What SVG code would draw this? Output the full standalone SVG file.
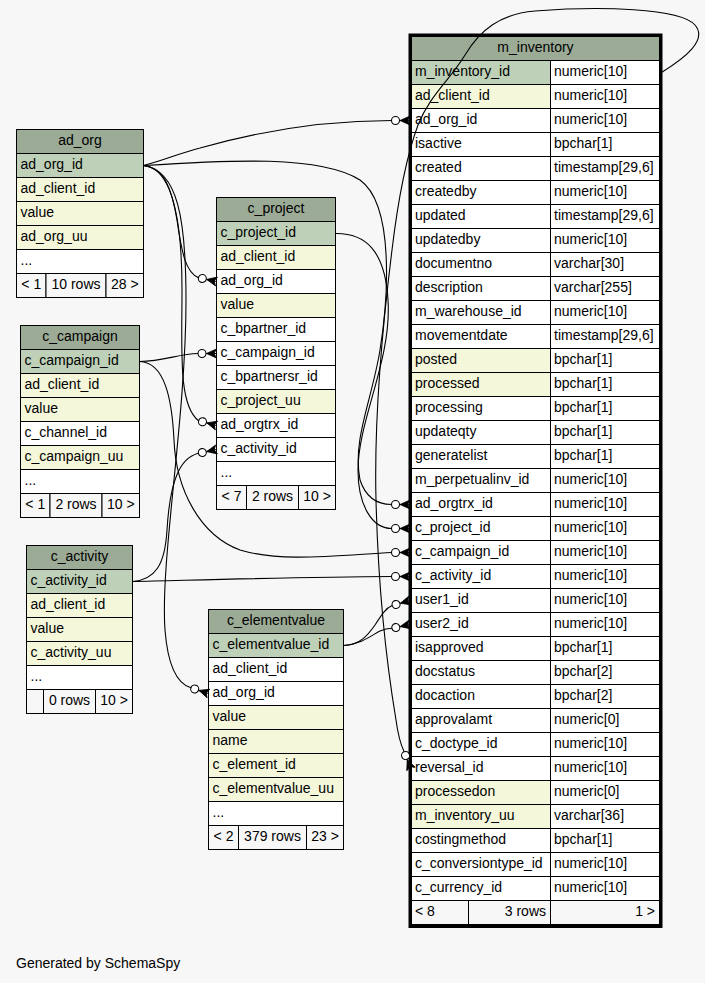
<svg xmlns="http://www.w3.org/2000/svg" xmlns:xlink="http://www.w3.org/1999/xlink" width="705" height="983" viewBox="0 0 705 983">
<style>
.hd{fill:#9bab96;stroke:#000;stroke-width:1}
.pk{fill:#bed1b8;stroke:#000;stroke-width:1}
.ix{fill:#f4f7da;stroke:#000;stroke-width:1}
.wh{fill:#fff;stroke:#000;stroke-width:1}
.ft{fill:#f7f7f7;stroke:#000;stroke-width:1}
text{font-family:"Liberation Sans",Arial,Helvetica,sans-serif;font-size:14px;fill:#000}
.c{text-anchor:middle}
.r{text-anchor:end}
.e{fill:none;stroke:#000;stroke-width:1.1}
</style>
<defs>
<g id="cf">
<path d="M-10,0 L0,-4.5 L-2.5,0 L0,4.5 Z" fill="#000" stroke="#000" stroke-width="0.8"/>
<path d="M-10,0 H0" stroke="#000" stroke-width="1"/>
<circle cx="-14.5" cy="0" r="4" fill="#fff" stroke="#000" stroke-width="1.1"/>
</g>
</defs>
<rect x="0" y="0" width="705" height="983" fill="#f7f7f7"/>

<g id="ad_org">
<rect class="hd" x="16.5" y="129.5" width="127" height="24"/>
<text class="c" x="80" y="145">ad_org</text>
<rect class="pk" x="16.5" y="153.5" width="127" height="24"/>
<text x="20.5" y="169">ad_org_id</text>
<rect class="ix" x="16.5" y="177.5" width="127" height="24"/>
<text x="20.5" y="193">ad_client_id</text>
<rect class="ix" x="16.5" y="201.5" width="127" height="24"/>
<text x="20.5" y="217">value</text>
<rect class="ix" x="16.5" y="225.5" width="127" height="24"/>
<text x="20.5" y="241">ad_org_uu</text>
<rect class="wh" x="16.5" y="249.5" width="127" height="24"/>
<text x="20.5" y="265">...</text>
<rect class="ft" x="16.5" y="273.5" width="29.5" height="24"/>
<rect class="ft" x="46" y="273.5" width="60" height="24"/>
<rect class="ft" x="106" y="273.5" width="37.5" height="24"/>
<text class="c" x="31.25" y="289">&lt; 1</text>
<text class="c" x="76" y="289">10 rows</text>
<text class="c" x="124.75" y="289">28 &gt;</text>
</g>

<g id="c_campaign">
<rect class="hd" x="20.5" y="325.5" width="119" height="24"/>
<text class="c" x="80" y="341">c_campaign</text>
<rect class="pk" x="20.5" y="349.5" width="119" height="24"/>
<text x="24.5" y="365">c_campaign_id</text>
<rect class="ix" x="20.5" y="373.5" width="119" height="24"/>
<text x="24.5" y="389">ad_client_id</text>
<rect class="ix" x="20.5" y="397.5" width="119" height="24"/>
<text x="24.5" y="413">value</text>
<rect class="wh" x="20.5" y="421.5" width="119" height="24"/>
<text x="24.5" y="437">c_channel_id</text>
<rect class="ix" x="20.5" y="445.5" width="119" height="24"/>
<text x="24.5" y="461">c_campaign_uu</text>
<rect class="wh" x="20.5" y="469.5" width="119" height="24"/>
<text x="24.5" y="485">...</text>
<rect class="ft" x="20.5" y="493.5" width="29.5" height="24"/>
<rect class="ft" x="50" y="493.5" width="52" height="24"/>
<rect class="ft" x="102" y="493.5" width="37.5" height="24"/>
<text class="c" x="35.25" y="509">&lt; 1</text>
<text class="c" x="76" y="509">2 rows</text>
<text class="c" x="120.75" y="509">10 &gt;</text>
</g>

<g id="c_activity">
<rect class="hd" x="26.5" y="545.5" width="106" height="24"/>
<text class="c" x="79.5" y="561">c_activity</text>
<rect class="pk" x="26.5" y="569.5" width="106" height="24"/>
<text x="30.5" y="585">c_activity_id</text>
<rect class="ix" x="26.5" y="593.5" width="106" height="24"/>
<text x="30.5" y="609">ad_client_id</text>
<rect class="ix" x="26.5" y="617.5" width="106" height="24"/>
<text x="30.5" y="633">value</text>
<rect class="ix" x="26.5" y="641.5" width="106" height="24"/>
<text x="30.5" y="657">c_activity_uu</text>
<rect class="wh" x="26.5" y="665.5" width="106" height="24"/>
<text x="30.5" y="681">...</text>
<rect class="ft" x="26.5" y="689.5" width="17" height="24"/>
<rect class="ft" x="43.5" y="689.5" width="52" height="24"/>
<rect class="ft" x="95.5" y="689.5" width="37" height="24"/>
<text class="c" x="69.5" y="705">0 rows</text>
<text class="c" x="114" y="705">10 &gt;</text>
</g>

<g id="c_project">
<rect class="hd" x="216.5" y="197.5" width="119" height="24"/>
<text class="c" x="276" y="213">c_project</text>
<rect class="pk" x="216.5" y="221.5" width="119" height="24"/>
<text x="220.5" y="237">c_project_id</text>
<rect class="ix" x="216.5" y="245.5" width="119" height="24"/>
<text x="220.5" y="261">ad_client_id</text>
<rect class="wh" x="216.5" y="269.5" width="119" height="24"/>
<text x="220.5" y="285">ad_org_id</text>
<rect class="ix" x="216.5" y="293.5" width="119" height="24"/>
<text x="220.5" y="309">value</text>
<rect class="wh" x="216.5" y="317.5" width="119" height="24"/>
<text x="220.5" y="333">c_bpartner_id</text>
<rect class="wh" x="216.5" y="341.5" width="119" height="24"/>
<text x="220.5" y="357">c_campaign_id</text>
<rect class="wh" x="216.5" y="365.5" width="119" height="24"/>
<text x="220.5" y="381">c_bpartnersr_id</text>
<rect class="ix" x="216.5" y="389.5" width="119" height="24"/>
<text x="220.5" y="405">c_project_uu</text>
<rect class="wh" x="216.5" y="413.5" width="119" height="24"/>
<text x="220.5" y="429">ad_orgtrx_id</text>
<rect class="wh" x="216.5" y="437.5" width="119" height="24"/>
<text x="220.5" y="453">c_activity_id</text>
<rect class="wh" x="216.5" y="461.5" width="119" height="24"/>
<text x="220.5" y="477">...</text>
<rect class="ft" x="216.5" y="485.5" width="30" height="24"/>
<rect class="ft" x="246.5" y="485.5" width="52" height="24"/>
<rect class="ft" x="298.5" y="485.5" width="37" height="24"/>
<text class="c" x="231.5" y="501">&lt; 7</text>
<text class="c" x="272.5" y="501">2 rows</text>
<text class="c" x="317" y="501">10 &gt;</text>
</g>

<g id="c_elementvalue">
<rect class="hd" x="208.5" y="609.5" width="135" height="24"/>
<text class="c" x="276" y="625">c_elementvalue</text>
<rect class="pk" x="208.5" y="633.5" width="135" height="24"/>
<text x="212.5" y="649">c_elementvalue_id</text>
<rect class="wh" x="208.5" y="657.5" width="135" height="24"/>
<text x="212.5" y="673">ad_client_id</text>
<rect class="wh" x="208.5" y="681.5" width="135" height="24"/>
<text x="212.5" y="697">ad_org_id</text>
<rect class="ix" x="208.5" y="705.5" width="135" height="24"/>
<text x="212.5" y="721">value</text>
<rect class="ix" x="208.5" y="729.5" width="135" height="24"/>
<text x="212.5" y="745">name</text>
<rect class="ix" x="208.5" y="753.5" width="135" height="24"/>
<text x="212.5" y="769">c_element_id</text>
<rect class="ix" x="208.5" y="777.5" width="135" height="24"/>
<text x="212.5" y="793">c_elementvalue_uu</text>
<rect class="wh" x="208.5" y="801.5" width="135" height="24"/>
<text x="212.5" y="817">...</text>
<rect class="ft" x="208.5" y="825.5" width="30" height="24"/>
<rect class="ft" x="238.5" y="825.5" width="68" height="24"/>
<rect class="ft" x="306.5" y="825.5" width="37" height="24"/>
<text class="c" x="223.5" y="841">&lt; 2</text>
<text class="c" x="272.5" y="841">379 rows</text>
<text class="c" x="325" y="841">23 &gt;</text>
</g>

<g id="m_inventory">
<rect class="hd" x="411.5" y="36.5" width="248" height="24"/>
<text class="c" x="535.5" y="52">m_inventory</text>
<rect class="pk" x="411.5" y="60.5" width="139" height="24"/><rect class="wh" x="550.5" y="60.5" width="109" height="24"/>
<text x="415" y="76">m_inventory_id</text><text x="554" y="76">numeric[10]</text>
<rect class="ix" x="411.5" y="84.5" width="139" height="24"/><rect class="wh" x="550.5" y="84.5" width="109" height="24"/>
<text x="415" y="100">ad_client_id</text><text x="554" y="100">numeric[10]</text>
<rect class="wh" x="411.5" y="108.5" width="139" height="24"/><rect class="wh" x="550.5" y="108.5" width="109" height="24"/>
<text x="415" y="124">ad_org_id</text><text x="554" y="124">numeric[10]</text>
<rect class="wh" x="411.5" y="132.5" width="139" height="24"/><rect class="wh" x="550.5" y="132.5" width="109" height="24"/>
<text x="415" y="148">isactive</text><text x="554" y="148">bpchar[1]</text>
<rect class="wh" x="411.5" y="156.5" width="139" height="24"/><rect class="wh" x="550.5" y="156.5" width="109" height="24"/>
<text x="415" y="172">created</text><text x="554" y="172">timestamp[29,6]</text>
<rect class="wh" x="411.5" y="180.5" width="139" height="24"/><rect class="wh" x="550.5" y="180.5" width="109" height="24"/>
<text x="415" y="196">createdby</text><text x="554" y="196">numeric[10]</text>
<rect class="wh" x="411.5" y="204.5" width="139" height="24"/><rect class="wh" x="550.5" y="204.5" width="109" height="24"/>
<text x="415" y="220">updated</text><text x="554" y="220">timestamp[29,6]</text>
<rect class="wh" x="411.5" y="228.5" width="139" height="24"/><rect class="wh" x="550.5" y="228.5" width="109" height="24"/>
<text x="415" y="244">updatedby</text><text x="554" y="244">numeric[10]</text>
<rect class="wh" x="411.5" y="252.5" width="139" height="24"/><rect class="wh" x="550.5" y="252.5" width="109" height="24"/>
<text x="415" y="268">documentno</text><text x="554" y="268">varchar[30]</text>
<rect class="wh" x="411.5" y="276.5" width="139" height="24"/><rect class="wh" x="550.5" y="276.5" width="109" height="24"/>
<text x="415" y="292">description</text><text x="554" y="292">varchar[255]</text>
<rect class="wh" x="411.5" y="300.5" width="139" height="24"/><rect class="wh" x="550.5" y="300.5" width="109" height="24"/>
<text x="415" y="316">m_warehouse_id</text><text x="554" y="316">numeric[10]</text>
<rect class="wh" x="411.5" y="324.5" width="139" height="24"/><rect class="wh" x="550.5" y="324.5" width="109" height="24"/>
<text x="415" y="340">movementdate</text><text x="554" y="340">timestamp[29,6]</text>
<rect class="ix" x="411.5" y="348.5" width="139" height="24"/><rect class="wh" x="550.5" y="348.5" width="109" height="24"/>
<text x="415" y="364">posted</text><text x="554" y="364">bpchar[1]</text>
<rect class="ix" x="411.5" y="372.5" width="139" height="24"/><rect class="wh" x="550.5" y="372.5" width="109" height="24"/>
<text x="415" y="388">processed</text><text x="554" y="388">bpchar[1]</text>
<rect class="wh" x="411.5" y="396.5" width="139" height="24"/><rect class="wh" x="550.5" y="396.5" width="109" height="24"/>
<text x="415" y="412">processing</text><text x="554" y="412">bpchar[1]</text>
<rect class="wh" x="411.5" y="420.5" width="139" height="24"/><rect class="wh" x="550.5" y="420.5" width="109" height="24"/>
<text x="415" y="436">updateqty</text><text x="554" y="436">bpchar[1]</text>
<rect class="wh" x="411.5" y="444.5" width="139" height="24"/><rect class="wh" x="550.5" y="444.5" width="109" height="24"/>
<text x="415" y="460">generatelist</text><text x="554" y="460">bpchar[1]</text>
<rect class="wh" x="411.5" y="468.5" width="139" height="24"/><rect class="wh" x="550.5" y="468.5" width="109" height="24"/>
<text x="415" y="484">m_perpetualinv_id</text><text x="554" y="484">numeric[10]</text>
<rect class="wh" x="411.5" y="492.5" width="139" height="24"/><rect class="wh" x="550.5" y="492.5" width="109" height="24"/>
<text x="415" y="508">ad_orgtrx_id</text><text x="554" y="508">numeric[10]</text>
<rect class="wh" x="411.5" y="516.5" width="139" height="24"/><rect class="wh" x="550.5" y="516.5" width="109" height="24"/>
<text x="415" y="532">c_project_id</text><text x="554" y="532">numeric[10]</text>
<rect class="wh" x="411.5" y="540.5" width="139" height="24"/><rect class="wh" x="550.5" y="540.5" width="109" height="24"/>
<text x="415" y="556">c_campaign_id</text><text x="554" y="556">numeric[10]</text>
<rect class="wh" x="411.5" y="564.5" width="139" height="24"/><rect class="wh" x="550.5" y="564.5" width="109" height="24"/>
<text x="415" y="580">c_activity_id</text><text x="554" y="580">numeric[10]</text>
<rect class="wh" x="411.5" y="588.5" width="139" height="24"/><rect class="wh" x="550.5" y="588.5" width="109" height="24"/>
<text x="415" y="604">user1_id</text><text x="554" y="604">numeric[10]</text>
<rect class="wh" x="411.5" y="612.5" width="139" height="24"/><rect class="wh" x="550.5" y="612.5" width="109" height="24"/>
<text x="415" y="628">user2_id</text><text x="554" y="628">numeric[10]</text>
<rect class="wh" x="411.5" y="636.5" width="139" height="24"/><rect class="wh" x="550.5" y="636.5" width="109" height="24"/>
<text x="415" y="652">isapproved</text><text x="554" y="652">bpchar[1]</text>
<rect class="wh" x="411.5" y="660.5" width="139" height="24"/><rect class="wh" x="550.5" y="660.5" width="109" height="24"/>
<text x="415" y="676">docstatus</text><text x="554" y="676">bpchar[2]</text>
<rect class="wh" x="411.5" y="684.5" width="139" height="24"/><rect class="wh" x="550.5" y="684.5" width="109" height="24"/>
<text x="415" y="700">docaction</text><text x="554" y="700">bpchar[2]</text>
<rect class="wh" x="411.5" y="708.5" width="139" height="24"/><rect class="wh" x="550.5" y="708.5" width="109" height="24"/>
<text x="415" y="724">approvalamt</text><text x="554" y="724">numeric[0]</text>
<rect class="wh" x="411.5" y="732.5" width="139" height="24"/><rect class="wh" x="550.5" y="732.5" width="109" height="24"/>
<text x="415" y="748">c_doctype_id</text><text x="554" y="748">numeric[10]</text>
<rect class="wh" x="411.5" y="756.5" width="139" height="24"/><rect class="wh" x="550.5" y="756.5" width="109" height="24"/>
<text x="415" y="772">reversal_id</text><text x="554" y="772">numeric[10]</text>
<rect class="ix" x="411.5" y="780.5" width="139" height="24"/><rect class="wh" x="550.5" y="780.5" width="109" height="24"/>
<text x="415" y="796">processedon</text><text x="554" y="796">numeric[0]</text>
<rect class="ix" x="411.5" y="804.5" width="139" height="24"/><rect class="wh" x="550.5" y="804.5" width="109" height="24"/>
<text x="415" y="820">m_inventory_uu</text><text x="554" y="820">varchar[36]</text>
<rect class="wh" x="411.5" y="828.5" width="139" height="24"/><rect class="wh" x="550.5" y="828.5" width="109" height="24"/>
<text x="415" y="844">costingmethod</text><text x="554" y="844">bpchar[1]</text>
<rect class="wh" x="411.5" y="852.5" width="139" height="24"/><rect class="wh" x="550.5" y="852.5" width="109" height="24"/>
<text x="415" y="868">c_conversiontype_id</text><text x="554" y="868">numeric[10]</text>
<rect class="wh" x="411.5" y="876.5" width="139" height="24"/><rect class="wh" x="550.5" y="876.5" width="109" height="24"/>
<text x="415" y="892">c_currency_id</text><text x="554" y="892">numeric[10]</text>
<rect class="ft" x="411.5" y="900.5" width="57" height="24"/>
<rect class="ft" x="468.5" y="900.5" width="82" height="24"/>
<rect class="ft" x="550.5" y="900.5" width="109" height="24"/>
<text x="415" y="916">&lt; 8</text>
<text class="r" x="546" y="916">3 rows</text>
<text class="r" x="655" y="916">1 &gt;</text>
<rect x="410" y="35" width="251" height="891.5" fill="none" stroke="#000" stroke-width="3"/>
</g>

<g id="edges">
<path class="e" d="M143.5,165.5 C165,160 180,153 200,148 C260,131 320,120.5 391.5,120.5"/>
<path class="e" d="M143.5,165.5 C230,160 320,155 360,180 C395,205 388,300 380,350 C372,400 352,440 360,480 C366,498 378,504.5 391.5,504.5"/>
<path class="e" d="M335.5,233.5 C365,233 385,250 388,300 C392,360 358,420 358,470 C358,505 372,528.5 391.5,528.5"/>
<path class="e" d="M143.5,165.5 C165,168 172,190 177,220 C182,255 186,272 198.4,277.7"/>
<path class="e" d="M143.5,165.5 C178,170 186,220 186,300 C186,420 160,560 165,630 C168,668 178,684 190.9,687.8"/>
<path class="e" d="M143.5,165.5 C172,168 182,220 182,290 C182,350 178,405 198.6,420.7"/>
<path class="e" d="M139.5,361.5 C165,361 178,354 198,353.5"/>
<path class="e" d="M139.5,361.5 C165,362 172,400 174,440 C176,490 200,535 240,550 C280,562 330,556 391.5,552.5"/>
<path class="e" d="M132.5,581.5 C155,580 165,565 167,530 C170,480 180,458 198.4,453.3"/>
<path class="e" d="M132.5,581.5 C200,580 300,577 391.5,576.5"/>
<path class="e" d="M343.5,645.5 C360,645 368,635 375,625 C382,614 386,608 392.2,605.6"/>
<path class="e" d="M343.5,645.5 C362,644 372,635 380,631 C385,629 388,628.5 391.9,628.3"/>
<path class="e" d="M661.5,72.5 C685,58 708,40 695,25 C680,8 600,6 535,11 C500,14 480,30 465,55 C450,80 430,95 418,125 C405,160 398,200 392,250 C382,330 374,420 376,500 C378,580 386,660 396,720 C398,735 401,745 404.1,751.8"/>
<use xlink:href="#cf" transform="translate(410,120.5)"/>
<use xlink:href="#cf" transform="translate(410,504.5)"/>
<use xlink:href="#cf" transform="translate(410,528.5)"/>
<use xlink:href="#cf" transform="translate(410,552.5)"/>
<use xlink:href="#cf" transform="translate(410,576.5)"/>
<use xlink:href="#cf" transform="translate(410,600.5) rotate(-16)"/>
<use xlink:href="#cf" transform="translate(410,624.5) rotate(-12)"/>
<use xlink:href="#cf" transform="translate(411,769) rotate(68)"/>
<use xlink:href="#cf" transform="translate(216.5,281.5) rotate(12)"/>
<use xlink:href="#cf" transform="translate(216.5,353.5)"/>
<use xlink:href="#cf" transform="translate(216.5,425.5) rotate(15)"/>
<use xlink:href="#cf" transform="translate(216.5,449.5) rotate(-12)"/>
<use xlink:href="#cf" transform="translate(208.5,693.5) rotate(18)"/>
</g>

<text x="16" y="968">Generated by SchemaSpy</text>
</svg>
